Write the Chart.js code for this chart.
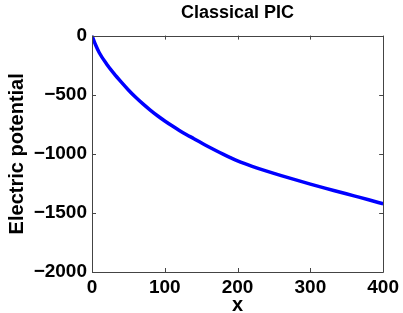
<!DOCTYPE html>
<html>
<head>
<meta charset="utf-8">
<script src="https://cdn.jsdelivr.net/npm/chart.js@4"></script>
<style>
  html, body { margin: 0; padding: 0; background: #fff; }
  canvas { display: block; }
</style>
</head>
<body>
<canvas id="myChart" width="403" height="313"></canvas>
<script>
// values
const xs = [0, 5, 10, 20, 30, 40, 50, 60, 70, 80, 90, 100, 110, 120, 130, 140, 150, 160, 170, 180, 190, 200, 210, 220, 240, 260, 280, 300, 320, 340, 360, 380, 400];
const ys = [0, -80, -145, -240, -320, -392, -460, -522, -578, -630, -678, -722, -763, -802, -838, -872, -907, -940, -972, -1003, -1032, -1060, -1084, -1106, -1147, -1185, -1221, -1256, -1290, -1323, -1356, -1389, -1423];
const xTicks = [0, 100, 200, 300, 400];
const yTicks = [0, -500, -1000, -1500, -2000];

const FONT = "'Liberation Sans', Arial, Helvetica, sans-serif";
const AXIS = '#444444';

// matlab style box + inward ticks
const boxPlugin = {
    id: 'box',
    afterDraw(chart) {
        const c = chart.ctx;
        const a = chart.chartArea;
        const sx = chart.scales.x, sy = chart.scales.y;
        c.save();
        c.strokeStyle = AXIS;
        c.lineWidth = 1;
        c.beginPath();
        c.rect(Math.round(a.left) + 0.5, Math.round(a.top) + 0.5,
            Math.round(a.right - a.left), Math.round(a.bottom - a.top));
        xTicks.forEach(v => {
            const p = Math.round(sx.getPixelForValue(v)) + 0.5;
            c.moveTo(p, a.bottom); c.lineTo(p, a.bottom - 4);
            c.moveTo(p, a.top); c.lineTo(p, a.top + 4);
        });
        yTicks.forEach(v => {
            const p = Math.round(sy.getPixelForValue(v)) + 0.5;
            c.moveTo(a.left, p); c.lineTo(a.left + 4, p);
            c.moveTo(a.right, p); c.lineTo(a.right - 4, p);
        });
        c.stroke();
        c.restore();
    }
};

const fmt = v => String(v).replace('-', '\u2212');

const ctx = document.getElementById('myChart');
const chart = new Chart(ctx, {
    type: 'line',
    data: {
        datasets: [{
            data: xs.map((x, i) => ({ x: x, y: ys[i] })),
            borderColor: '#0000ff',
            borderWidth: 3.5,
            pointRadius: 0,
            fill: false,
            tension: 0.4,
            cubicInterpolationMode: 'monotone'
        }]
    },
    options: {
        responsive: false,
        animation: false,
        devicePixelRatio: 1,
        layout: { padding: { left: 0, right: 19, top: 0, bottom: 0 } },
        plugins: {
            legend: { display: false },
            tooltip: { enabled: false },
            title: {
                display: true,
                fullSize: false,
                text: 'Classical PIC',
                color: '#000',
                font: { family: FONT, size: 18, weight: 'bold' },
                padding: { top: 2, bottom: 12 }
            }
        },
        scales: {
            x: {
                type: 'linear',
                min: 0, max: 400,
                afterBuildTicks: s => { s.ticks = xTicks.map(v => ({ value: v })); },
                afterFit: s => { s.height = 41; },
                grid: { display: false, drawTicks: false },
                border: { display: false },
                ticks: {
                    color: '#000',
                    padding: 4,
                    maxRotation: 0,
                    font: { family: FONT, size: 19, weight: 'bold' },
                    callback: fmt
                },
                title: {
                    display: true,
                    text: 'x',
                    color: '#000',
                    font: { family: FONT, size: 20, weight: 'bold' },
                    padding: { top: 0, bottom: -4 }
                }
            },
            y: {
                type: 'linear',
                min: -2000, max: 0,
                afterBuildTicks: s => { s.ticks = yTicks.map(v => ({ value: v })); },
                afterFit: s => { s.width = 92; },
                grid: { display: false, drawTicks: false },
                border: { display: false },
                ticks: {
                    color: '#000',
                    padding: 5,
                    font: { family: FONT, size: 19, weight: 'bold' },
                    callback: fmt
                },
                title: {
                    display: true,
                    text: 'Electric potential',
                    color: '#000',
                    font: { family: FONT, size: 20, weight: 'bold' },
                    padding: { top: 5, bottom: 0 }
                }
            }
        }
    },
    plugins: [boxPlugin]
});
</script>
</body>
</html>
